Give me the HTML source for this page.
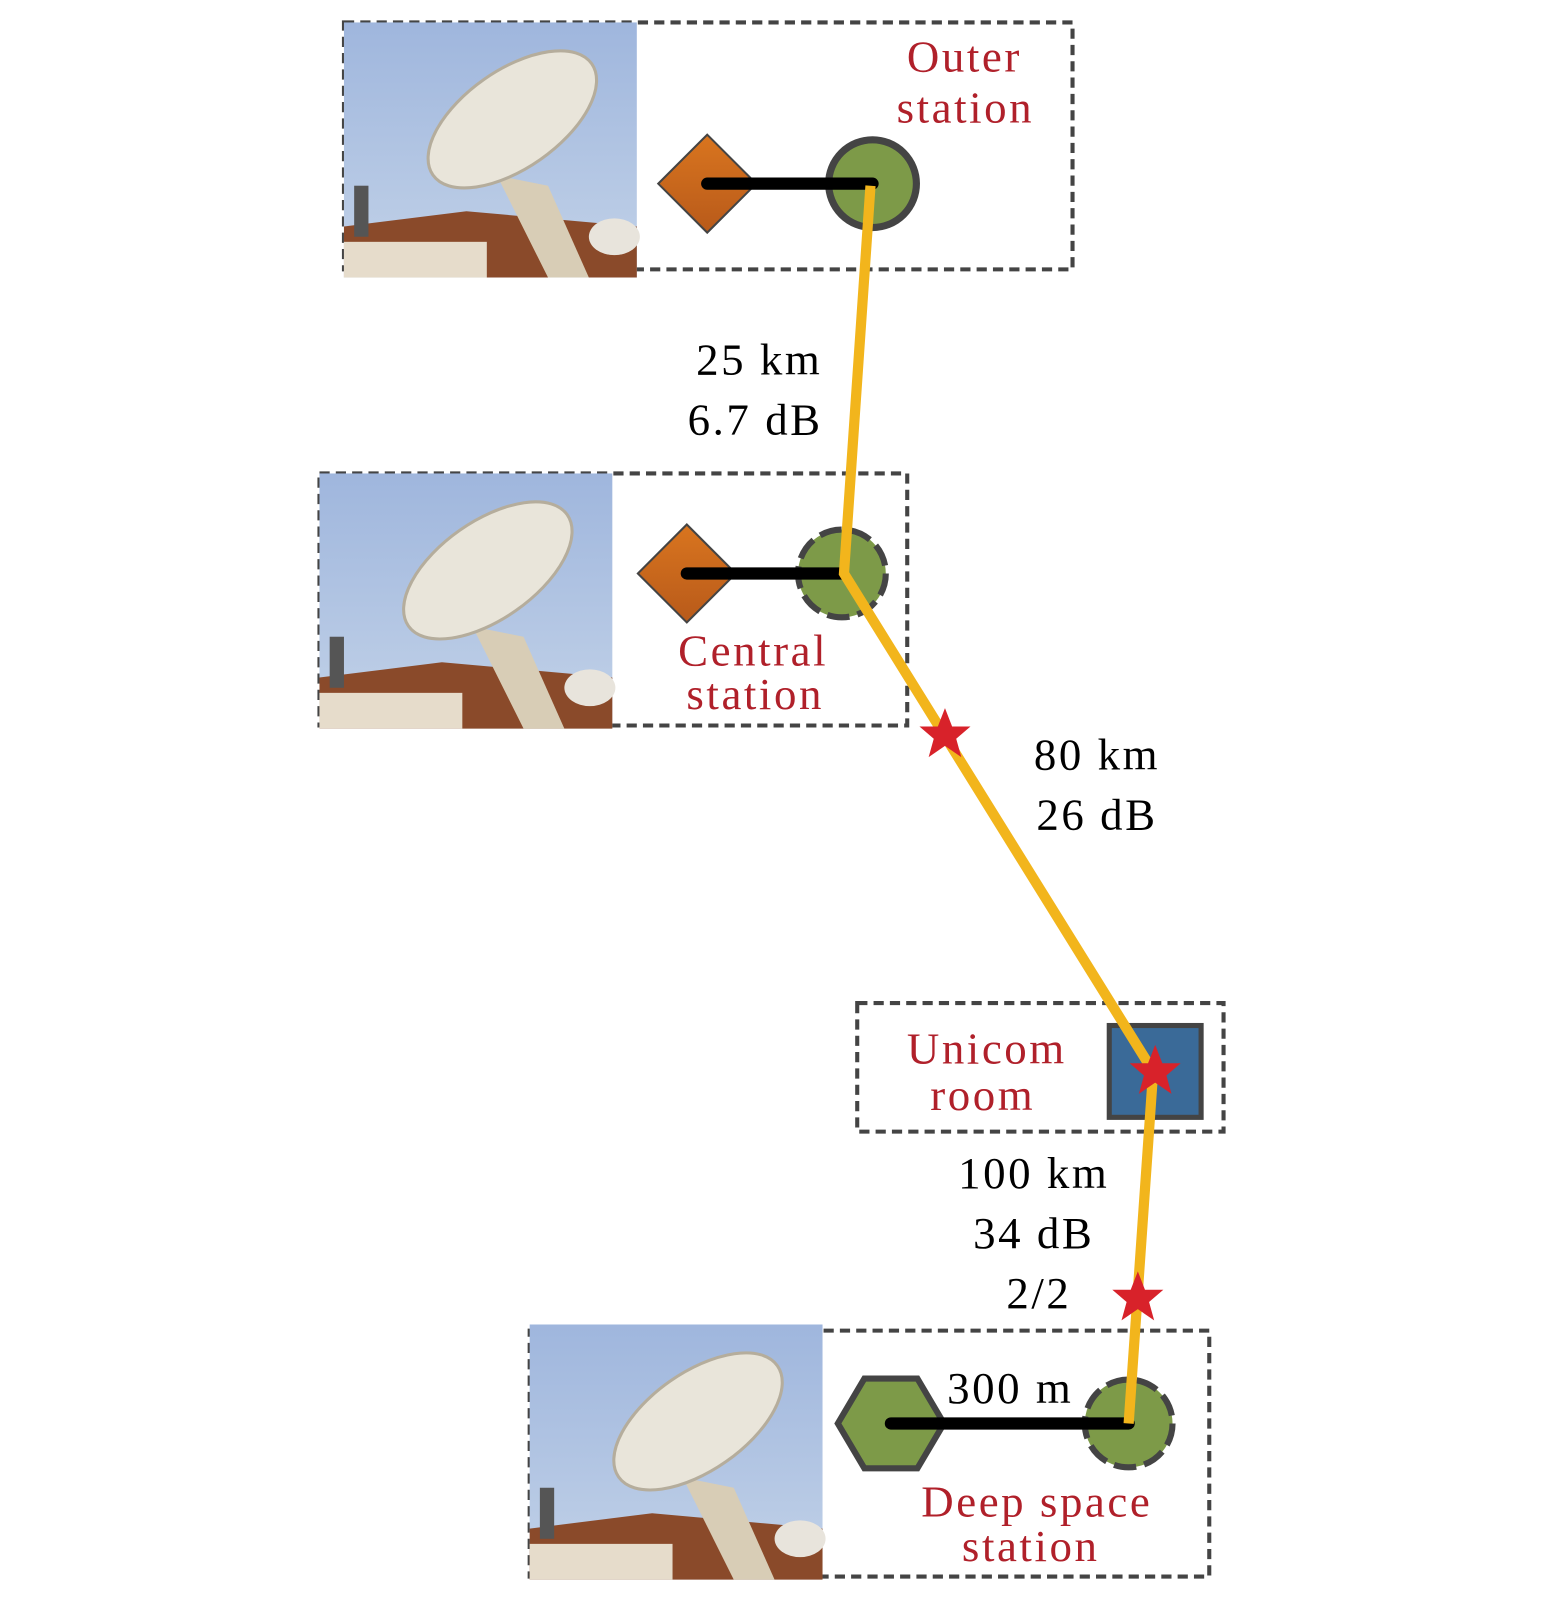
<!DOCTYPE html>
<html><head><style>body{margin:0;background:#fff}svg{display:block}</style></head><body>
<svg width="1542" height="1600" viewBox="0 0 1511 1568" xmlns="http://www.w3.org/2000/svg" font-family="Liberation Serif, serif">
<defs>
<linearGradient id="sky" x1="0" y1="0" x2="0" y2="1"><stop offset="0" stop-color="#9fb6dd"/><stop offset="1" stop-color="#c2d2e8"/></linearGradient>
<linearGradient id="dia" x1="0" y1="0" x2="0" y2="1"><stop offset="0" stop-color="#d9751f"/><stop offset="1" stop-color="#b85a1a"/></linearGradient>
<g id="photo">
<rect width="287" height="250" fill="url(#sky)"/>
<path d="M0 200 L120 185 L287 200 L287 250 L0 250Z" fill="#8a4a2a"/>
<rect x="0" y="215" width="140" height="35" fill="#e6dccb"/>
<path d="M150 150 L200 250 L240 250 L200 160Z" fill="#d8cdb6"/>
<ellipse cx="165" cy="95" rx="95" ry="48" transform="rotate(-35 165 95)" fill="#e9e5da" stroke="#b5ad9c" stroke-width="3"/>
<ellipse cx="265" cy="210" rx="25" ry="18" fill="#e8e4dc"/>
<rect x="10" y="160" width="14" height="50" fill="#555"/>
</g>
<g id="star"><polygon points="0,-26 7,-8 25,-8 11,4 16,22 0,11 -16,22 -11,4 -25,-8 -7,-8" fill="#d8222a"/></g>
</defs>
<g fill="none" stroke="#444" stroke-width="4" stroke-dasharray="10 6">
<rect x="337" y="22" width="714" height="242"/>
<rect x="313" y="464" width="576" height="247"/>
<rect x="840" y="983" width="359" height="126"/>
<rect x="519" y="1304" width="666" height="241"/>
</g>
<use href="#photo" x="337" y="22"/>
<use href="#photo" x="313" y="464"/>
<use href="#photo" x="519" y="1298"/>
<polygon points="693,132 741,180 693,228 645,180" fill="url(#dia)" stroke="#444" stroke-width="2"/>
<circle cx="855" cy="180" r="43" fill="#7d9a48" stroke="#444" stroke-width="7"/>
<polygon points="673,514 721,562 673,610 625,562" fill="url(#dia)" stroke="#444" stroke-width="2"/>
<circle cx="825" cy="562" r="43" fill="#7d9a48" stroke="#444" stroke-width="6" stroke-dasharray="22 8"/>
<rect x="1087" y="1005" width="90" height="90" fill="#3a6a98" stroke="#444" stroke-width="5"/>
<polygon points="847,1351 899,1351 925,1395 899,1439 847,1439 821,1395" fill="#7d9a48" stroke="#444" stroke-width="6"/>
<circle cx="1106" cy="1395" r="43" fill="#7d9a48" stroke="#444" stroke-width="6" stroke-dasharray="22 8"/>
<g stroke="#000" stroke-width="12" stroke-linecap="round">
<line x1="693" y1="180" x2="855" y2="180"/>
<line x1="673" y1="562" x2="825" y2="562"/>
<line x1="873" y1="1395" x2="1106" y2="1395"/>
</g>
<polyline points="853,182 827,562 1130,1050 1106,1395" fill="none" stroke="#f2b51c" stroke-width="10"/>
<use href="#star" x="926" y="720"/>
<use href="#star" x="1132" y="1050"/>
<use href="#star" x="1115" y="1272"/>
<g fill="#b0202a" font-size="44" text-anchor="middle" letter-spacing="2.5">
<text x="945" y="70">Outer</text><text x="946" y="120">station</text>
<text x="738" y="652">Central</text><text x="740" y="695">station</text>
<text x="967" y="1042">Unicom</text><text x="963" y="1088">room</text>
<text x="1016" y="1486">Deep space</text><text x="1010" y="1530">station</text>
</g>
<g fill="#000" font-size="44" text-anchor="middle" letter-spacing="2.5">
<text x="744" y="367">25 km</text><text x="740" y="426">6.7 dB</text>
<text x="1075" y="754">80 km</text><text x="1075" y="813">26 dB</text>
<text x="1013" y="1164">100 km</text><text x="1013" y="1223">34 dB</text><text x="1018" y="1282">2/2</text>
<text x="990" y="1375">300 m</text>
</g>
</svg>
</body></html>
